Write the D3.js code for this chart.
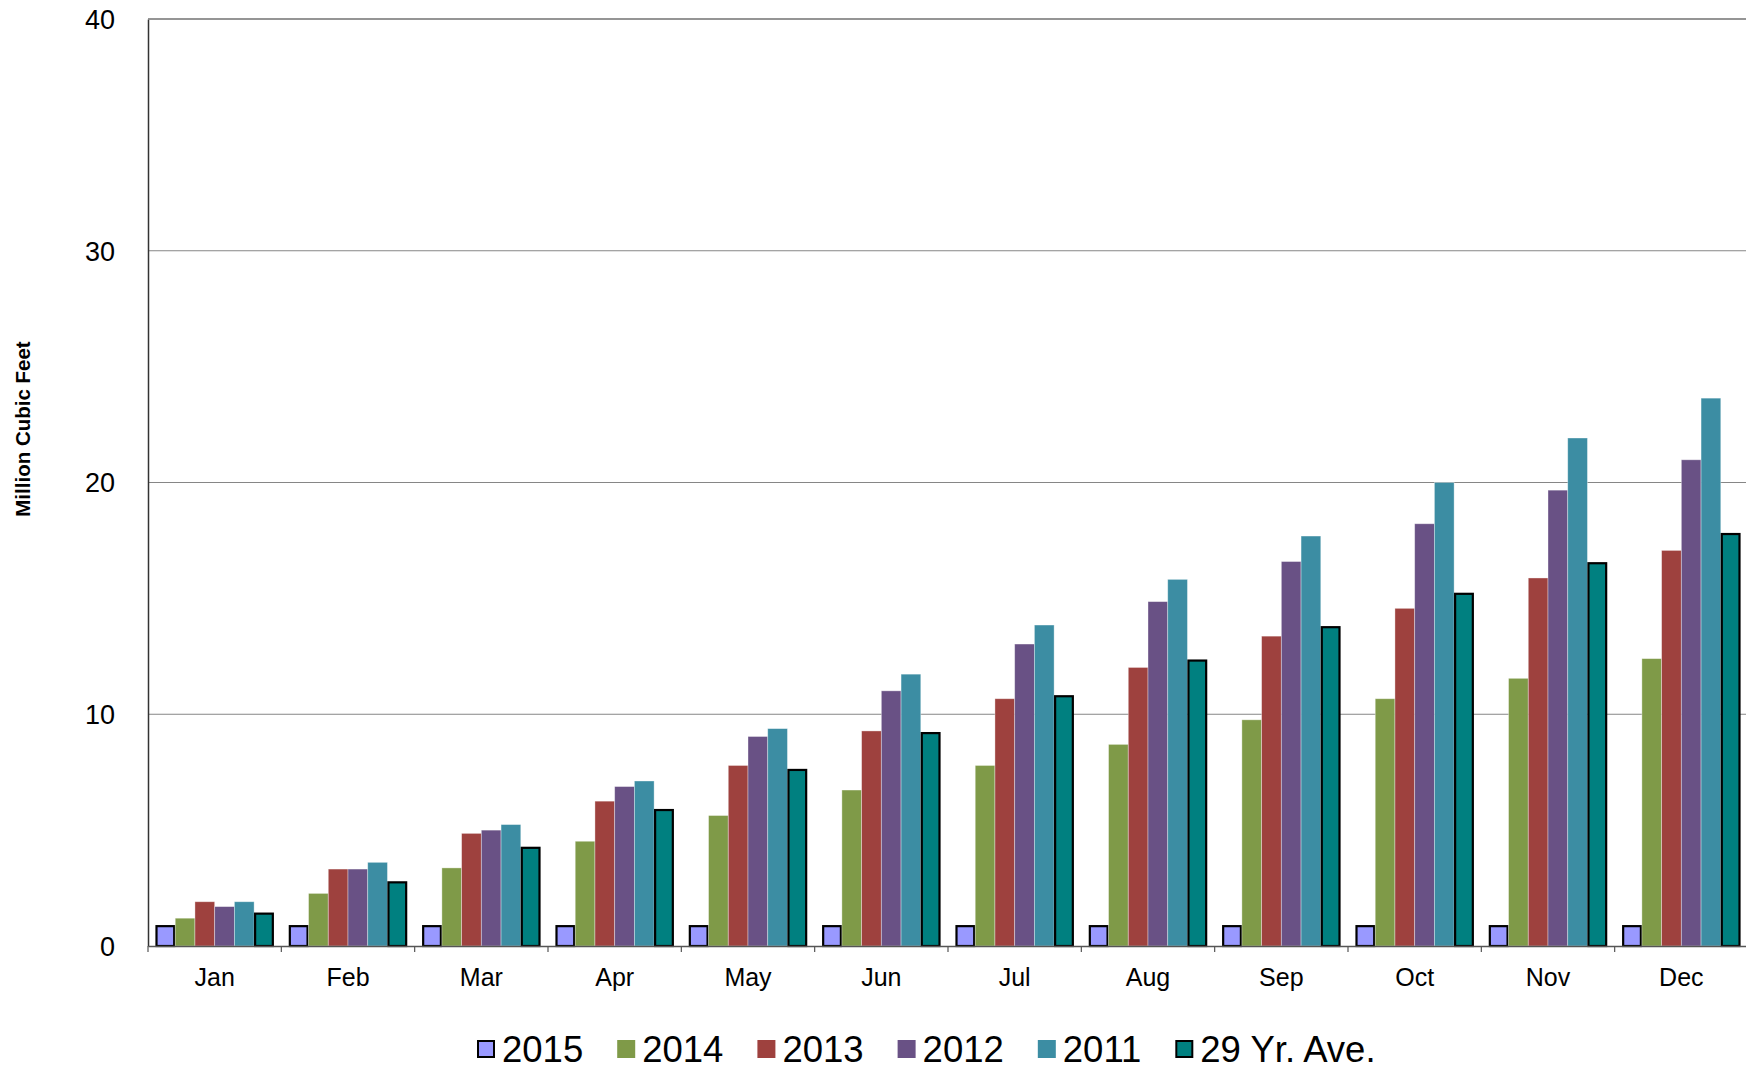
<!DOCTYPE html>
<html><head><meta charset="utf-8">
<script src="https://cdn.jsdelivr.net/npm/d3@7"></script>
<style>html,body{margin:0;padding:0;background:#fff;overflow:hidden}</style>
</head><body>
<svg id="chart" width="1746" height="1073"></svg>
<script>
const months = ["Jan","Feb","Mar","Apr","May","Jun","Jul","Aug","Sep","Oct","Nov","Dec"];
const seriesNames = ["2015","2014","2013","2012","2011","29 Yr. Ave."];
const v2015 = [0.9,0.9,0.9,0.9,0.9,0.9,0.9,0.9,0.9,0.9,0.9,0.9];
const v2014 = [1.2,2.27,3.37,4.52,5.63,6.73,7.79,8.70,9.76,10.67,11.55,12.40];
const v2013 = [1.91,3.32,4.86,6.25,7.79,9.28,10.67,12.02,13.37,14.57,15.88,17.07];
const v2012 = [1.70,3.32,5.0,6.88,9.04,11.01,13.03,14.86,16.59,18.22,19.67,20.98];
const v2011 = [1.91,3.61,5.24,7.12,9.38,11.73,13.85,15.82,17.69,20.0,21.92,23.64];
const vAve  = [1.44,2.79,4.28,5.91,7.64,9.23,10.82,12.36,13.80,15.24,16.56,17.82];
const yTicks = [0,10,20,30,40];
const colors = ["#9999FF","#7F9A48","#9E413E","#695185","#3C8DA3","#008080"];
const outlined = [true,false,false,false,false,true];
const allSeries = [v2015,v2014,v2013,v2012,v2011,vAve];

const svg = d3.select("#chart");
const mLeft = 148, mTop = 19, mBottom = 946, plotW = 1600;
const font = "Liberation Sans, Arial, sans-serif";

const x0 = d3.scaleBand().domain(months).range([mLeft, mLeft + plotW]).padding(0);
const x1 = d3.scaleBand().domain(d3.range(6)).range([0, x0.bandwidth()]).paddingInner(0).paddingOuter(0.38);
const y = d3.scaleLinear().domain([0,40]).range([mBottom, mTop]);

// gridlines
svg.append("g").selectAll("line").data(yTicks.filter(t => t > 0)).join("line")
  .attr("x1", mLeft).attr("x2", mLeft + plotW)
  .attr("y1", d => y(d)).attr("y2", d => y(d))
  .attr("stroke", "#868686").attr("stroke-width", 1.2);

// bars
const groups = svg.append("g").selectAll("g").data(months).join("g")
  .attr("transform", d => `translate(${x0(d)},0)`);
groups.selectAll("rect").data((m, i) => allSeries.map((s, k) => ({k, v: s[i]}))).join("rect")
  .attr("x", d => x1(d.k) + (outlined[d.k] ? 1 : 0))
  .attr("width", d => x1.bandwidth() - (outlined[d.k] ? 2 : 0))
  .attr("y", d => y(d.v) + (outlined[d.k] ? 1 : 0))
  .attr("height", d => mBottom - y(d.v) - (outlined[d.k] ? 1 : 0))
  .attr("fill", d => colors[d.k])
  .attr("stroke", d => outlined[d.k] ? "#000" : "rgba(255,255,255,0.45)")
  .attr("stroke-width", d => outlined[d.k] ? 2.2 : 0.8);

// y axis
const yAxis = d3.axisLeft(y).tickValues(yTicks).tickSize(0).tickPadding(33);
const gy = svg.append("g").attr("transform", `translate(${mLeft},0)`).call(yAxis);
gy.select(".domain").attr("stroke", "#333").attr("stroke-width", 1.5);
gy.selectAll("text").attr("font-family", font).attr("font-size", 27).attr("fill", "#000").attr("dy", "0.35em");

// top border line
svg.append("line").attr("x1", mLeft).attr("x2", mLeft + plotW).attr("y1", mTop).attr("y2", mTop)
  .attr("stroke", "#868686").attr("stroke-width", 1.5);

// x axis
const xAxis = d3.axisBottom(x0).tickSize(0).tickPadding(0);
const gx = svg.append("g").attr("transform", `translate(0,${mBottom})`).call(xAxis);
gx.select(".domain").attr("stroke", "#555").attr("stroke-width", 1.5);
gx.selectAll("text").attr("font-family", font).attr("font-size", 25).attr("fill", "#000")
  .attr("y", 40).attr("dy", 0);
// tick marks between categories
svg.append("g").selectAll("line").data(months.concat(["_end"])).join("line")
  .attr("x1", (d, i) => mLeft + i * x0.step()).attr("x2", (d, i) => mLeft + i * x0.step())
  .attr("y1", mBottom).attr("y2", mBottom + 6)
  .attr("stroke", "#555").attr("stroke-width", 1.2);

// y-axis title
svg.append("text").attr("transform", `translate(30,429) rotate(-90)`)
  .attr("text-anchor", "middle").attr("font-family", font).attr("font-weight", "bold")
  .attr("font-size", 20.5).text("Million Cubic Feet");

// legend
const lg = svg.append("g");
let lx = 477;
const ly = 1049;
seriesNames.forEach((name, k) => {
  const g = lg.append("g");
  g.append("rect").attr("x", lx + (outlined[k] ? 1 : 0)).attr("y", ly - 9 + (outlined[k] ? 1 : 0))
    .attr("width", 18 - (outlined[k] ? 2 : 0)).attr("height", 18 - (outlined[k] ? 2 : 0))
    .attr("fill", colors[k]).attr("stroke", outlined[k] ? "#000" : "none").attr("stroke-width", 2);
  const t = g.append("text").attr("x", lx + 25).attr("y", ly + 13)
    .attr("font-family", font).attr("font-size", 36.5).text(name);
  const w = t.node().getComputedTextLength();
  lx += 25 + w + 34;
});
</script>
</body></html>
